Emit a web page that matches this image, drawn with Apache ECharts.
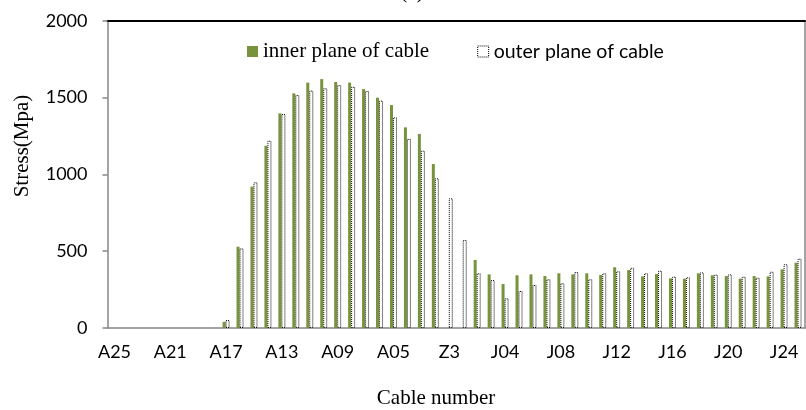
<!DOCTYPE html>
<html>
<head>
<meta charset="utf-8">
<script src="https://cdn.jsdelivr.net/npm/echarts@6/dist/echarts.min.js"></script>
<style>html,body{margin:0;padding:0;background:#fff}#c{width:806px;height:410px}</style>
</head>
<body>
<div id="c"></div>
<script>
const categories = ['A25','A24','A23','A22','A21','A20','A19','A18','A17','A16','A15','A14','A13','A12','A11','A10','A09','A08','A07','A06','A05','A04','A03','A02','Z3','J01','J02','J03','J04','J05','J06','J07','J08','J09','J10','J11','J12','J13','J14','J15','J16','J17','J18','J19','J20','J21','J22','J23','J24','J25'];
const innerPlane = [null,null,null,null,null,null,null,null,40,529,920,1186,1397,1527,1597,1620,1601,1597,1555,1499,1451,1306,1263,1067,null,null,443,349,286,343,349,338,356,349,356,345,395,377,336,351,323,321,356,343,338,321,338,336,382,425];
const outerPlane = [null,null,null,null,null,null,null,null,52,518,948,1219,1393,1516,1545,1560,1581,1570,1542,1480,1371,1230,1154,974,844,573,356,312,193,241,280,317,291,364,317,356,369,392,356,373,334,330,362,347,349,334,327,366,415,451];
const yTicks = [0, 500, 1000, 1500, 2000];
const seriesNames = ['inner plane of cable', 'outer plane of cable'];

const chart = echarts.init(document.getElementById('c'), null, {renderer: 'canvas'});
const sans = 'Lato';
const serif = '"Liberation Serif", "Times New Roman", serif';
chart.setOption({
  animation: false,
  backgroundColor: '#fff',
  grid: {left: 107.5, right: 1, top: 20.7, bottom: 82, outerBoundsMode: 'none', containLabel: false},
  legend: {
    left: 242, top: 36, itemGap: 48, itemWidth: 11, itemHeight: 11,
    data: [
      {name: seriesNames[0], icon: 'rect'},
      {name: seriesNames[1], icon: 'rect', itemStyle: {color: '#fff', borderColor: '#000', borderWidth: 1, borderType: 'dotted'}}
    ],
    formatter: n => n === seriesNames[0] ? '{s|' + n + '}' : '{c|' + n + '}',
    textStyle: {
      rich: {
        s: {fontFamily: serif, fontSize: 21, color: '#000'},
        c: {fontFamily: sans, fontSize: 19.5, color: '#000'}
      }
    }
  },
  xAxis: [{
    type: 'category', data: categories, position: 'bottom', boundaryGap: true,
    axisLine: {onZero: false, lineStyle: {color: '#868686', width: 1.5}},
    axisTick: {interval: 1, length: 5, lineStyle: {color: '#868686', width: 1.5}},
    axisLabel: {interval: 3, margin: 15, color: '#000', fontFamily: sans, fontSize: 18},
    splitLine: {show: false}
  }, {
    type: 'category', data: categories, position: 'top',
    axisLine: {onZero: false, lineStyle: {color: '#000', width: 2}},
    axisTick: {show: false}, axisLabel: {show: false}, splitLine: {show: false}
  }],
  yAxis: [{
    type: 'value', min: yTicks[0], max: yTicks[yTicks.length - 1], interval: 500,
    axisLine: {show: true, onZero: false, lineStyle: {color: '#868686', width: 1.5}},
    axisTick: {show: true, length: 5, lineStyle: {color: '#868686', width: 1.5}},
    axisLabel: {margin: 20, color: '#000', fontFamily: sans, fontSize: 18, formatter: v => String(v)},
    splitLine: {show: false}
  }, {
    type: 'value', min: yTicks[0], max: yTicks[yTicks.length - 1], interval: 500, position: 'right',
    axisLine: {show: true, onZero: false, lineStyle: {color: '#868686', width: 1.5}},
    axisTick: {show: false}, axisLabel: {show: false}, splitLine: {show: false}
  }],
  series: [{
    name: seriesNames[0], type: 'bar', data: innerPlane, barWidth: 3, barGap: '0%',
    itemStyle: {color: '#77933C'}
  }, {
    name: seriesNames[1], type: 'bar', data: outerPlane, barWidth: 4, barGap: '0%',
    itemStyle: {color: '#fff', borderColor: '#000', borderWidth: 1, borderType: 'dotted'}
  }],
  graphic: [
    {type: 'text', x: 412, y: -8, style: {text: '(a)', font: '21px "Liberation Serif"', fill: '#000', align: 'center', verticalAlign: 'middle'}},
    {type: 'text', x: 436, y: 398, style: {text: 'Cable number', font: '21px "Liberation Serif"', fill: '#000', align: 'center', verticalAlign: 'middle'}},
    {type: 'text', x: 22, y: 146, rotation: Math.PI / 2, style: {text: 'Stress(Mpa)', font: '21px "Liberation Serif"', fill: '#000', align: 'center', verticalAlign: 'middle'}}
  ]
});
</script>
</body>
</html>
